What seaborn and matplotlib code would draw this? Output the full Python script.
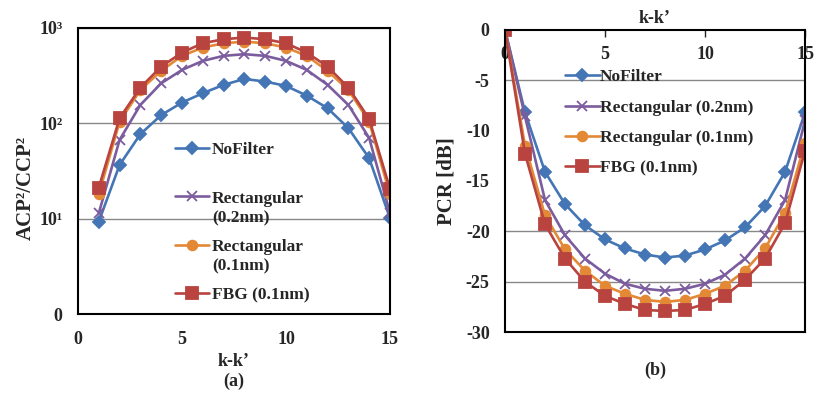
import numpy as np
import pandas as pd
import matplotlib
matplotlib.use("Agg")
import matplotlib.pyplot as plt
import seaborn as sns

# ---- datos ----
k_a = list(range(1, 16))
acp_nofilter = [9.3, 36.6, 77, 122, 165, 207, 253, 292, 274, 247, 195, 144, 89, 43, 10.1]
acp_rect02 = [11.4, 67, 156, 263, 363, 452, 510, 531, 510, 452, 363, 253, 156, 70, 11.5]
acp_rect01 = [18, 104, 224, 355, 510, 623, 692, 719, 692, 623, 510, 355, 224, 104, 18]
acp_fbg = [21.2, 113, 237, 393, 552, 692, 762, 794, 762, 692, 552, 393, 237, 111, 20.5]

k_b = list(range(0, 16))
pcr_nofilter = [0, -8.2, -14.1, -17.3, -19.4, -20.8, -21.7, -22.3, -22.6, -22.4, -21.8, -20.9, -19.6, -17.5, -14.1, -8.2]
pcr_rect02 = [0, -8.6, -16.9, -20.4, -22.7, -24.2, -25.2, -25.7, -25.9, -25.7, -25.2, -24.3, -22.7, -20.4, -16.9, -9.0]
pcr_rect01 = [0, -11.5, -18.4, -21.8, -23.9, -25.4, -26.2, -26.8, -27.0, -26.8, -26.2, -25.4, -23.9, -21.7, -18.2, -11.2]
pcr_fbg = [0, -12.3, -19.3, -22.7, -25.0, -26.4, -27.2, -27.8, -27.9, -27.8, -27.2, -26.4, -24.8, -22.7, -19.2, -12.0]

ytick_a = [1, 10, 100, 1000]
ytick_a_labels = ["0", "10¹", "10²", "10³"]
xticks = [0, 5, 10, 15]
yticks_b = [0, -5, -10, -15, -20, -25, -30]
grid_b = [-5, -20, -25]

# en (a) la leyenda parte la etiqueta en dos lineas
labels_a = ["NoFilter", "Rectangular", "Rectangular", "FBG (0.1nm)"]
labels_a_2 = [None, "(0.2nm)", "(0.1nm)", None]
labels_b = ["NoFilter", "Rectangular (0.2nm)", "Rectangular (0.1nm)", "FBG (0.1nm)"]

colores = ["#4475B4", "#7B5C9E", "#E38835", "#B8433F"]
marcadores = ["D", "x", "o", "s"]
tam = [6, 7, 7, 8.5]

sns.set_style("white")
plt.rcParams["font.family"] = ["Liberation Serif", "DejaVu Serif"]
plt.rcParams["font.weight"] = "bold"
plt.rcParams["font.size"] = 12
plt.rcParams["axes.unicode_minus"] = False

leg_font = {"family": "Liberation Serif", "weight": "bold", "size": 12.5}

fig = plt.figure(figsize=(8.14, 3.94), dpi=100)
ax1 = fig.add_axes([0.0958, 0.203, 0.3833, 0.726])
ax2 = fig.add_axes([0.6204, 0.157, 0.3686, 0.7675])

# ==============================
# (a) ACP^2/CCP^2
# ==============================
series_a = [acp_nofilter, acp_rect02, acp_rect01, acp_fbg]
for vals, lab, c, m, s in zip(series_a, labels_a, colores, marcadores, tam):
    sns.lineplot(x=k_a, y=vals, ax=ax1, color=c, marker=m, markersize=s,
                 markeredgecolor=c, markeredgewidth=1.3, lw=1.9, label=lab)

ax1.set_yscale("log")
ax1.set_ylim(1, 1000)
ax1.set_xlim(0, 15)
ax1.set_yticks(ytick_a)
ax1.set_yticklabels(ytick_a_labels)
ax1.minorticks_off()
ax1.set_xticks(xticks)
ax1.yaxis.grid(True, color="#888888", lw=1)
ax1.tick_params(axis="x", direction="in", length=5, width=1, pad=12, labelsize=13)
ax1.tick_params(axis="y", length=0, pad=11, labelsize=13)
ax1.set_xlabel("k-k’\n(a)", fontsize=13, fontweight="bold", labelpad=4)
ax1.set_ylabel("ACP²/CCP²", fontsize=15, fontweight="bold")
ax1.yaxis.set_label_coords(-0.135, 0.44)
leg1 = ax1.legend(loc="upper left", bbox_to_anchor=(0.31, 0.601), frameon=False,
                  borderpad=0, borderaxespad=0, handlelength=1.95, handletextpad=0.2,
                  labelspacing=1.85, prop=leg_font)
# segunda linea de las etiquetas largas, justo debajo del texto de la leyenda
for txt, extra in zip(leg1.get_texts(), labels_a_2):
    if extra:
        ax1.annotate(extra, xy=(0, 0), xycoords=txt, xytext=(0, -2.5),
                     textcoords="offset points", ha="left", va="top",
                     zorder=10, annotation_clip=False, **leg_font)

# ==============================
# (b) PCR [dB]
# ==============================
series_b = [pcr_nofilter, pcr_rect02, pcr_rect01, pcr_fbg]
for vals, lab, c, m, s in zip(series_b, labels_b, colores, marcadores, tam):
    sns.lineplot(x=k_b, y=vals, ax=ax2, color=c, marker=m, markersize=s,
                 markeredgecolor=c, markeredgewidth=1.3, lw=1.9, label=lab)

ax2.set_xlim(0, 15)
ax2.set_ylim(-30, 0)
ax2.set_yticks(yticks_b)
ax2.set_xticks(xticks)
for g in grid_b:
    ax2.axhline(g, color="#888888", lw=1, zorder=0)
ax2.xaxis.tick_top()
ax2.xaxis.set_label_position("top")
ax2.tick_params(axis="x", top=True, bottom=False, labeltop=True, labelbottom=False,
                direction="in", length=5, width=1, pad=-24, labelsize=13)
ax2.tick_params(axis="y", length=0, pad=11, labelsize=13)
ax2.set_xlabel("k-k’", fontsize=13, fontweight="bold", labelpad=5)
ax2.set_ylabel("PCR [dB]", fontsize=15, fontweight="bold")
ax2.yaxis.set_label_coords(-0.163, 0.5)
ax2.text(0.5, -0.126, "(b)", transform=ax2.transAxes, ha="center", va="center",
         fontsize=13, fontweight="bold")
ax2.legend(loc="upper left", bbox_to_anchor=(0.2, 0.87), frameon=False,
           borderpad=0, borderaxespad=0, handlelength=2.0, handletextpad=0.0,
           labelspacing=0.82, prop=leg_font)

for ax in (ax1, ax2):
    for sp in ax.spines.values():
        sp.set_color("black")
        sp.set_linewidth(1.5)

plt.savefig("out.png", dpi=100)
plt.close()
